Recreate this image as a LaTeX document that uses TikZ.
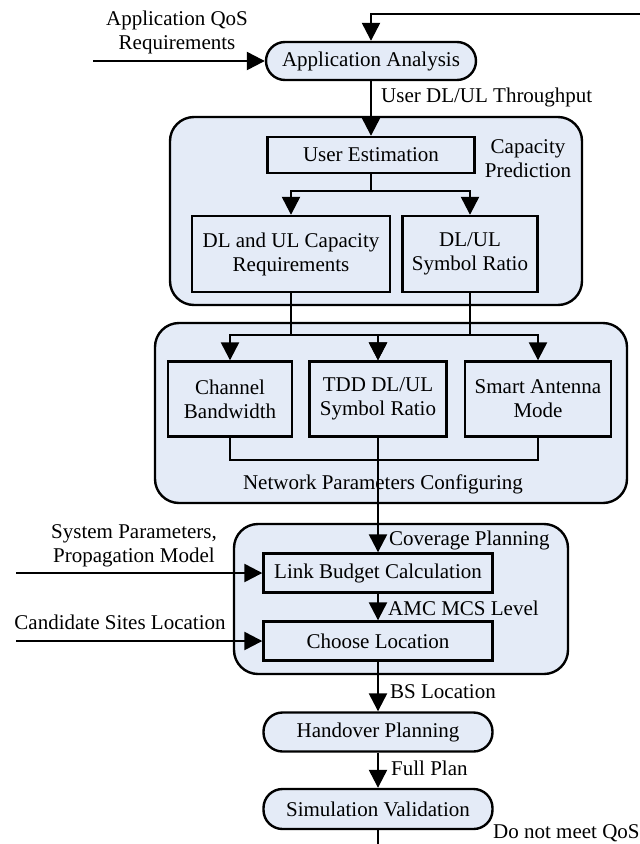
\documentclass[tikz,border=0pt]{standalone}
\usepackage{fontspec}
\setmainfont{Liberation Serif}
\usepackage{tikz}
\usetikzlibrary{arrows.meta}
\definecolor{paleblue}{RGB}{228,235,247}

\begin{document}
\begin{tikzpicture}[x=1pt,y=-1pt,line width=2.4pt,
  font=\fontsize{21}{24}\selectfont,
  >={Triangle[length=18pt,width=18pt]},
  group/.style={draw,fill=paleblue,rounded corners=24pt,inner sep=0pt},
  blk/.style={draw,fill=paleblue,align=center,inner sep=0pt},
  pill/.style={blk,rounded corners=19pt},
  txt/.style={align=center,inner sep=0pt}]
  \useasboundingbox (0,0) rectangle (640,844);
%  groups
  \node[group,minimum width=412pt,minimum height=188pt] (cap) at (376,211) {};
  \node[group,minimum width=472pt,minimum height=180pt] (net) at (391,413) {};
  \node[group,minimum width=334pt,minimum height=150pt] (cov) at (401,599) {};
  \node[txt] (capl) at (528,159) {Capacity\\Prediction};
  \node[txt] (netl) at (383,484) {Network Parameters Configuring};
  \node[txt,anchor=west] (covl) at (388,540) {Coverage Planning};
%  blocks
  \node[pill,minimum width=210pt,minimum height=38pt] (app) at (371,61) {Application Analysis};
  \node[blk,minimum width=207pt,minimum height=36pt] (ue) at (371,155) {User Estimation};
  \node[blk,minimum width=198pt,minimum height=76pt] (dlul) at (291,254) {DL and UL Capacity\\Requirements};
  \node[blk,minimum width=135pt,minimum height=76pt] (ratio) at (470,254) {DL/UL\\Symbol Ratio};
  \node[blk,minimum width=124pt,minimum height=75pt] (chbw) at (230,399) {Channel\\Bandwidth};
  \node[blk,minimum width=137pt,minimum height=75pt] (tdd) at (378,399) {TDD DL/UL\\Symbol Ratio};
  \node[blk,minimum width=146pt,minimum height=75pt] (sam) at (538,399) {Smart Antenna\\Mode};
  \node[blk,minimum width=229pt,minimum height=39pt] (lbc) at (378,573) {Link Budget Calculation};
  \node[blk,minimum width=229pt,minimum height=39pt] (cl) at (378,641) {Choose Location};
  \node[pill,minimum width=229pt,minimum height=39pt] (hop) at (378,732) {Handover Planning};
  \node[pill,minimum width=229pt,minimum height=40pt] (simv) at (378,809) {Simulation Validation};
%  inputs and labels
  \node[txt] (appin) at (177,32) {Application QoS\\Requirements};
  \node[txt] (sysin) at (134,546) {System Parameters,\\Propagation Model};
  \node[txt] (sitein) at (120,622) {Candidate Sites Location};
  \node[txt,anchor=west] (thr) at (380,97) {User DL/UL Throughput};
  \node[txt,anchor=west] (amc) at (387,608) {AMC MCS Level};
  \node[txt,anchor=west] (bsl) at (389,692) {BS Location};
  \node[txt,anchor=west] (fp) at (390,768) {Full Plan};
  \node[txt,anchor=west] (qos) at (492,833) {Do not meet QoS};
  \coordinate (fbin) at (640,14);
  \coordinate (fbout) at (378,844);
  \coordinate (src1) at (93,61);
  \coordinate (src2) at (16,573);
  \coordinate (src3) at (16,641);
%  connectors
  \draw[->] (fbin) -| (app.north);
  \draw[->] (src1) -- (app.west);
  \draw[->] (app) -- (ue);
  \draw[->] (ue.south) -- ++(0,17) -| (dlul.north);
  \draw[->] (ue.south) -- ++(0,17) -| (ratio.north);
  \draw[->] (dlul.south) -- ++(0,42) -| (chbw.north);
  \draw[->] (dlul.south) -- ++(0,42) -| (tdd.north);
  \draw[->] (ratio.south) -- ++(0,42) -| (tdd.north);
  \draw[->] (ratio.south) -- ++(0,42) -| (sam.north);
  \draw (chbw.south) -- ++(0,22) -| (sam.south);
  \draw[->] (tdd.south) -- (lbc.north);
  \draw[->] (src2) -- (lbc.west);
  \draw[->] (lbc) -- (cl);
  \draw[->] (src3) -- (cl.west);
  \draw[->] (cl) -- (hop);
  \draw[->] (hop) -- (simv);
  \draw (simv) -- (fbout);
\end{tikzpicture}
\end{document}
